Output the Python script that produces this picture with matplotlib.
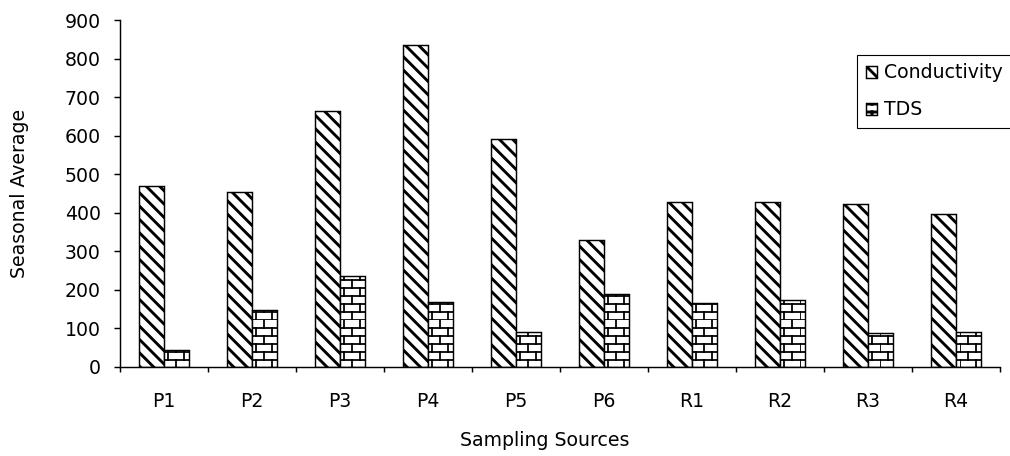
import warnings

import matplotlib
matplotlib.use("Agg")
import matplotlib.hatch as mhatch
import matplotlib.pyplot as plt
import numpy as np
from matplotlib.path import Path

warnings.filterwarnings("ignore")

sources = ["P1", "P2", "P3", "P4", "P5", "P6", "R1", "R2", "R3", "R4"]
conductivity = [470, 454, 663, 835, 590, 329, 428, 428, 422, 396]
tds = [43, 147, 235, 167, 91, 189, 165, 173, 87, 91]


class BrickHatch(mhatch.HatchPatternBase):
    """brick pattern (Excel style), used with hatch char 'b'"""

    def __init__(self, hatch, density):
        self.rows = hatch.count("b") * 10
        self.cols = self.rows // 2
        self.num_vertices = 2 * self.rows + 2 * self.rows * self.cols

    def set_vertices_and_codes(self, vertices, codes):
        n = 0
        for i in range(self.rows):
            y0 = i / self.rows
            y1 = (i + 1) / self.rows
            vertices[n] = (0.0, y0)
            vertices[n + 1] = (1.0, y0)
            n += 2
            shift = 0.5 * (i % 2)
            for j in range(self.cols):
                x = (j + shift) / self.cols
                vertices[n] = (x, y0)
                vertices[n + 1] = (x, y1)
                n += 2
        codes[0::2] = Path.MOVETO
        codes[1::2] = Path.LINETO


mhatch._hatch_types.append(BrickHatch)

plt.rcParams["font.family"] = "DejaVu Sans"
plt.rcParams["font.size"] = 17
plt.rcParams["hatch.linewidth"] = 2.6

fig = plt.figure(figsize=(1010 / 80, 456 / 80), dpi=80)
ax = fig.add_axes([120 / 1010, 1 - 366.7 / 456, 880 / 1010, 346.7 / 456])

x = np.arange(len(sources))
w = 1 / 3.5
b1 = ax.bar(x - w / 2, conductivity, w, color="white", edgecolor="black",
            linewidth=1.3, hatch="\\\\", label="Conductivity")
b2 = ax.bar(x + w / 2, tds, w, color="white", edgecolor="black",
            linewidth=1.3, hatch="b", label="TDS")
for p in b2:
    if hasattr(p, "set_hatch_linewidth"):
        p.set_hatch_linewidth(1.6)

ax.set_xlim(-0.5, len(sources) - 0.5)
ax.set_ylim(0, 900)
ax.set_yticks(range(0, 901, 100))
ax.set_xticks(x)
ax.set_xticklabels(sources)
ax.set_xticks(np.arange(-0.5, len(sources), 1), minor=True)

ax.spines["top"].set_visible(False)
ax.spines["right"].set_visible(False)
ax.spines["left"].set_linewidth(1.3)
ax.spines["bottom"].set_linewidth(1.3)
ax.tick_params(axis="x", which="major", length=0, pad=22.5)
ax.tick_params(axis="x", which="minor", length=4.5, width=1.3, direction="out")
ax.tick_params(axis="y", length=5.4, width=1.3, direction="out", pad=12)

ax.set_xlabel("Sampling Sources")
ax.xaxis.set_label_coords(0.483, -0.186)
ax.set_ylabel("Seasonal Average")
ax.yaxis.set_label_coords(-0.103, 0.5)

ax.legend(loc="upper left", bbox_to_anchor=(857 / 1010, 1 - 55 / 456),
          bbox_transform=fig.transFigure, borderaxespad=0, fancybox=False,
          framealpha=1, edgecolor="black", handlelength=0.63,
          handleheight=0.63, handletextpad=0.37, borderpad=0.45,
          labelspacing=0.95)

fig.savefig("out.png", dpi=80)
